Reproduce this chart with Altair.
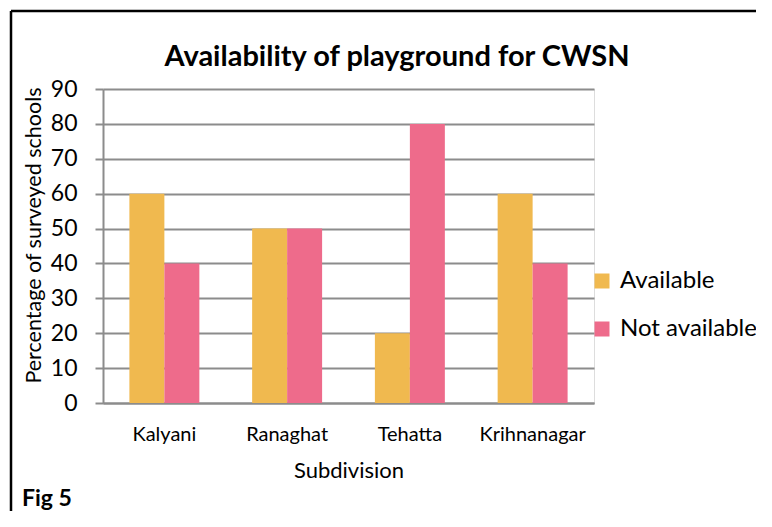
import altair as alt
import pandas as pd

subdivisions = ["Kalyani", "Ranaghat", "Tehatta", "Krihnanagar"]
available = [60, 50, 20, 60]
not_available = [40, 50, 80, 40]
series = ["Available", "Not available"]
colors = ["#F0B94F", "#EE6B8B"]
chart_title = "Availability of playground for CWSN"
fig_label = "Fig 5"

rows = []
for s, a, n in zip(subdivisions, available, not_available):
    rows.append({"Subdivision": s, "Status": series[0], "Value": a})
    rows.append({"Subdivision": s, "Status": series[1], "Value": n})
df = pd.DataFrame(rows)

FONT = "Lato"
GRID = "#8c8c8c"

bars = alt.Chart(df).mark_bar().encode(
    x=alt.X("Subdivision:N", sort=subdivisions,
            scale=alt.Scale(paddingInner=0.43, paddingOuter=0.215),
            axis=alt.Axis(title="Subdivision", labelAngle=0, ticks=False,
                          domainColor=GRID, domainWidth=2,
                          labelFontSize=20, labelPadding=21, labelColor="#000",
                          titleFontSize=22, titleFontWeight="normal", titlePadding=16,
                          titleColor="#000", labelFont=FONT, titleFont=FONT)),
    xOffset=alt.XOffset("Status:N", sort=series),
    y=alt.Y("Value:Q", scale=alt.Scale(domain=[0, 90]),
            axis=alt.Axis(title="Percentage of surveyed schools", values=list(range(0, 91, 10)),
                          grid=True, gridColor=GRID, gridWidth=2,
                          domainColor=GRID, domainWidth=2,
                          tickColor=GRID, tickSize=8, tickWidth=2,
                          labelFontSize=23, labelPadding=18, labelColor="#000",
                          titleFontSize=21.5, titleFontWeight="normal", titleColor="#000",
                          titlePadding=5, titleY=146, labelFont=FONT, titleFont=FONT)),
    color=alt.Color("Status:N", sort=series,
                    scale=alt.Scale(domain=series, range=colors),
                    legend=alt.Legend(title=None, orient="none", legendX=487, legendY=180,
                                      symbolType="square", symbolSize=225, symbolStrokeWidth=0,
                                      labelFontSize=24, labelFont=FONT, labelColor="#000",
                                      rowPadding=24, labelOffset=6)),
)

border = alt.Chart(pd.DataFrame({"k": [0]})).mark_rule(color="#000", strokeWidth=2.5).encode(
    x=alt.value(-92), x2=alt.value(680), y=alt.value(-78))
border2 = alt.Chart(pd.DataFrame({"k": [0]})).mark_rule(color="#000", strokeWidth=2.5).encode(
    x=alt.value(-92), y=alt.value(-78), y2=alt.value(440))

fig = alt.Chart(pd.DataFrame({"t": [fig_label]})).mark_text(
    font=FONT, fontSize=23, fontWeight="bold", align="left", baseline="middle", color="#000"
).encode(text="t:N", x=alt.value(-81), y=alt.value(410))

title = alt.Chart(pd.DataFrame({"t": [chart_title]})).mark_text(
    font=FONT, fontSize=29, fontWeight="bold", align="center", baseline="alphabetic", color="#000"
).encode(text="t:N", x=alt.value(294), y=alt.value(-23))

chart = alt.layer(bars, border, border2, fig, title).properties(
    width=491, height=314,
    padding={"left": 95, "top": 81, "right": 162, "bottom": 108},
    autosize=alt.AutoSizeParams(type="none"),
).configure_view(stroke=None).configure(background="white")

chart.save("out.html", embed_options={"renderer": "svg", "actions": False})
